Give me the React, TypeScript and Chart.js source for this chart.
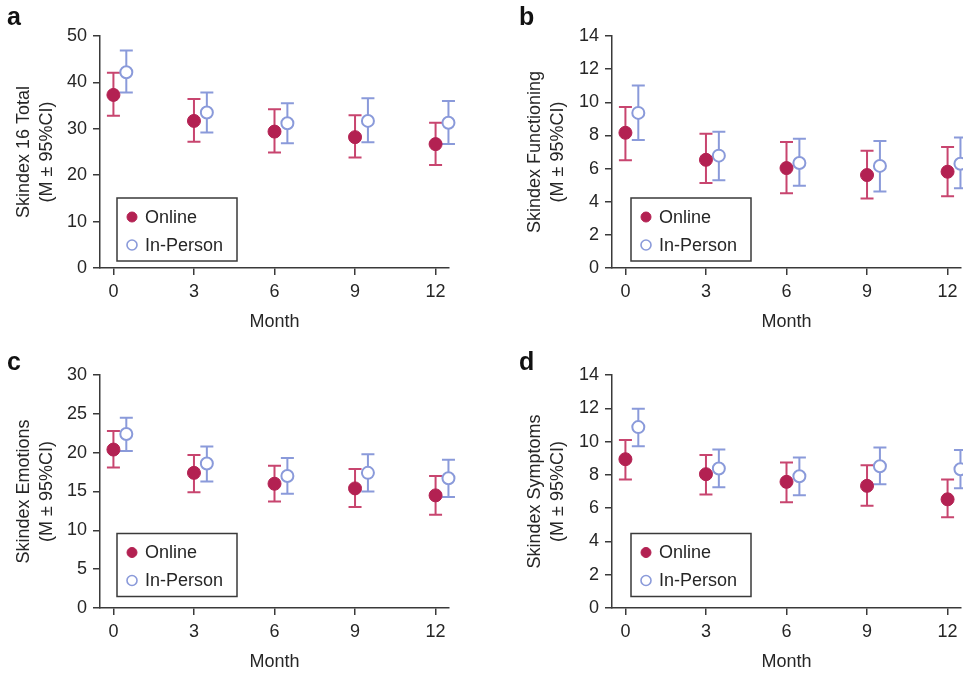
import React, { useEffect, useRef } from 'react';
import { Chart, registerables } from 'chart.js';

Chart.register(...registerables);

// ---------- data ----------
const MONTHS = [0, 3, 6, 9, 12];
const X_TICKS = [0, 3, 6, 9, 12];
const SERIES_NAMES = ['Online', 'In-Person'];
const X_TITLE = 'Month';
const ONLINE_OFFSET = 0;
const IN_PERSON_OFFSET = 0.48;

// panel a
const A_Y_TITLE = ['Skindex 16 Total', '(M ± 95%CI)'];
const A_Y_TICKS = [0, 10, 20, 30, 40, 50];
const A_ONLINE_MEAN = [37.3, 31.7, 29.4, 28.2, 26.7];
const A_ONLINE_LO = [32.8, 27.2, 24.9, 23.8, 22.2];
const A_ONLINE_HI = [42.1, 36.4, 34.2, 32.9, 31.3];
const A_INPERSON_MEAN = [42.2, 33.5, 31.2, 31.7, 31.3];
const A_INPERSON_LO = [37.8, 29.2, 26.9, 27.1, 26.7];
const A_INPERSON_HI = [46.9, 37.8, 35.5, 36.6, 36.0];

// panel b
const B_Y_TITLE = ['Skindex Functioning', '(M ± 95%CI)'];
const B_Y_TICKS = [0, 2, 4, 6, 8, 10, 12, 14];
const B_ONLINE_MEAN = [8.16, 6.53, 6.03, 5.61, 5.81];
const B_ONLINE_LO = [6.5, 5.13, 4.51, 4.19, 4.33];
const B_ONLINE_HI = [9.72, 8.1, 7.6, 7.08, 7.3];
const B_INPERSON_MEAN = [9.36, 6.78, 6.34, 6.16, 6.29];
const B_INPERSON_LO = [7.72, 5.29, 4.97, 4.61, 4.81];
const B_INPERSON_HI = [11.01, 8.22, 7.8, 7.66, 7.88];

// panel c
const C_Y_TITLE = ['Skindex Emotions', '(M ± 95%CI)'];
const C_Y_TICKS = [0, 5, 10, 15, 20, 25, 30];
const C_ONLINE_MEAN = [20.4, 17.4, 16.0, 15.4, 14.5];
const C_ONLINE_LO = [18.1, 14.9, 13.7, 13.0, 12.0];
const C_ONLINE_HI = [22.8, 19.7, 18.3, 17.9, 17.0];
const C_INPERSON_MEAN = [22.4, 18.6, 17.0, 17.4, 16.7];
const C_INPERSON_LO = [20.2, 16.3, 14.7, 15.0, 14.3];
const C_INPERSON_HI = [24.5, 20.8, 19.3, 19.8, 19.1];

// panel d
const D_Y_TITLE = ['Skindex Symptoms', '(M ± 95%CI)'];
const D_Y_TICKS = [0, 2, 4, 6, 8, 10, 12, 14];
const D_ONLINE_MEAN = [8.94, 8.04, 7.58, 7.34, 6.53];
const D_ONLINE_LO = [7.72, 6.82, 6.35, 6.14, 5.45];
const D_ONLINE_HI = [10.1, 9.2, 8.74, 8.58, 7.72];
const D_INPERSON_MEAN = [10.87, 8.38, 7.92, 8.52, 8.34];
const D_INPERSON_LO = [9.72, 7.26, 6.78, 7.44, 7.2];
const D_INPERSON_HI = [11.97, 9.52, 9.05, 9.65, 9.49];

// ---------- styles ----------
const FONT = "'Liberation Sans', Arial, Helvetica, sans-serif";
const TEXT = '#262626';
const AXIS = '#3a3a3a';
const ONLINE_COLOR = '#B32152';
const ONLINE_BAR = '#C8456F';
const IN_PERSON_COLOR = '#8A9ADA';

function buildPoints(mean: number[], lo: number[], hi: number[], offset: number) {
  return MONTHS.map((m, i) => ({ x: m + offset, y: mean[i], lo: lo[i], hi: hi[i] }));
}

const errorBarPlugin = {
  id: 'errorBars',
  beforeDatasetsDraw(chart: any) {
    const { ctx } = chart;
    const xs = chart.scales.x;
    const ys = chart.scales.y;
    chart.data.datasets.forEach((ds: any, di: number) => {
      if (!chart.isDatasetVisible(di)) return;
      ctx.save();
      ctx.strokeStyle = ds.errorColor;
      ctx.lineWidth = 2;
      ds.data.forEach((p: any) => {
        const px = xs.getPixelForValue(p.x);
        const yl = ys.getPixelForValue(p.lo);
        const yh = ys.getPixelForValue(p.hi);
        const cap = 6.5;
        ctx.beginPath();
        ctx.moveTo(px, yl);
        ctx.lineTo(px, yh);
        ctx.moveTo(px - cap, yl);
        ctx.lineTo(px + cap, yl);
        ctx.moveTo(px - cap, yh);
        ctx.lineTo(px + cap, yh);
        ctx.stroke();
      });
      ctx.restore();
    });
  },
};

// legend drawn inside a framed box, built from the datasets' labels and styles
const boxedLegendPlugin = {
  id: 'boxedLegend',
  afterDraw(chart: any) {
    const o = chart.options.plugins.boxedLegend;
    if (!o) return;
    const { ctx } = chart;
    const ca = chart.chartArea;
    const left = ca.left + o.dx;
    const top = ca.bottom - o.dy - o.h;
    ctx.save();
    ctx.strokeStyle = AXIS;
    ctx.lineWidth = 1.5;
    ctx.strokeRect(left, top, o.w, o.h);
    ctx.font = `18px ${FONT}`;
    ctx.textBaseline = 'middle';
    ctx.textAlign = 'left';
    chart.data.datasets.forEach((ds: any, i: number) => {
      const cy = top + 19 + i * 28;
      const cx = left + 15;
      ctx.beginPath();
      ctx.arc(cx, cy, 5, 0, Math.PI * 2);
      ctx.fillStyle = ds.backgroundColor;
      ctx.fill();
      ctx.lineWidth = i === 0 ? 1 : 1.6;
      ctx.strokeStyle = ds.borderColor;
      ctx.stroke();
      ctx.fillStyle = TEXT;
      ctx.fillText(ds.label, left + 28, cy + 1);
    });
    ctx.restore();
  },
};

type PanelCfg = {
  letter: string;
  yTitle: string[];
  yTicks: number[];
  online: [number[], number[], number[]];
  inPerson: [number[], number[], number[]];
  left: number;
  top: number;
  width: number;
  yAxisWidth: number;
  padTop: number;
  padRight: number;
  titlePad: number;
  legendDx: number;
  legendDy: number;
  letterLeft: number;
  letterTop: number;
};

const PANELS: PanelCfg[] = [
  {
    letter: 'a', yTitle: A_Y_TITLE, yTicks: A_Y_TICKS,
    online: [A_ONLINE_MEAN, A_ONLINE_LO, A_ONLINE_HI],
    inPerson: [A_INPERSON_MEAN, A_INPERSON_LO, A_INPERSON_HI],
    left: 0, top: 0, width: 480, yAxisWidth: 100, padTop: 36, padRight: 31, titlePad: 12.5,
    legendDx: 17, legendDy: 7, letterLeft: 7, letterTop: 4,
  },
  {
    letter: 'b', yTitle: B_Y_TITLE, yTicks: B_Y_TICKS,
    online: [B_ONLINE_MEAN, B_ONLINE_LO, B_ONLINE_HI],
    inPerson: [B_INPERSON_MEAN, B_INPERSON_LO, B_INPERSON_HI],
    left: 480, top: 0, width: 500, yAxisWidth: 132, padTop: 36, padRight: 19, titlePad: 43.5,
    legendDx: 19, legendDy: 7, letterLeft: 519, letterTop: 4,
  },
  {
    letter: 'c', yTitle: C_Y_TITLE, yTicks: C_Y_TICKS,
    online: [C_ONLINE_MEAN, C_ONLINE_LO, C_ONLINE_HI],
    inPerson: [C_INPERSON_MEAN, C_INPERSON_LO, C_INPERSON_HI],
    left: 0, top: 340, width: 480, yAxisWidth: 100, padTop: 35, padRight: 31, titlePad: 12.5,
    legendDx: 17, legendDy: 11.5, letterLeft: 7, letterTop: 349,
  },
  {
    letter: 'd', yTitle: D_Y_TITLE, yTicks: D_Y_TICKS,
    online: [D_ONLINE_MEAN, D_ONLINE_LO, D_ONLINE_HI],
    inPerson: [D_INPERSON_MEAN, D_INPERSON_LO, D_INPERSON_HI],
    left: 480, top: 340, width: 500, yAxisWidth: 132, padTop: 35, padRight: 19, titlePad: 43.5,
    legendDx: 19, legendDy: 11.5, letterLeft: 519, letterTop: 349,
  },
];

const H = 340;

function Panel({ cfg }: { cfg: PanelCfg }) {
  const ref = useRef<HTMLCanvasElement>(null);
  useEffect(() => {
    const yMax = cfg.yTicks[cfg.yTicks.length - 1];
    const chart = new Chart(ref.current as HTMLCanvasElement, {
      type: 'scatter',
      data: {
        datasets: [
          {
            label: SERIES_NAMES[0],
            data: buildPoints(cfg.online[0], cfg.online[1], cfg.online[2], ONLINE_OFFSET),
            backgroundColor: ONLINE_COLOR,
            borderColor: ONLINE_COLOR,
            borderWidth: 1,
            pointRadius: 6.5,
            pointStyle: 'circle',
            clip: false,
            errorColor: ONLINE_BAR,
          } as any,
          {
            label: SERIES_NAMES[1],
            data: buildPoints(cfg.inPerson[0], cfg.inPerson[1], cfg.inPerson[2], IN_PERSON_OFFSET),
            backgroundColor: '#ffffff',
            borderColor: IN_PERSON_COLOR,
            borderWidth: 2,
            pointRadius: 6,
            pointStyle: 'circle',
            clip: false,
            errorColor: IN_PERSON_COLOR,
          } as any,
        ],
      },
      options: {
        responsive: false,
        maintainAspectRatio: false,
        animation: false,
        events: [],
        font: { family: FONT, size: 18 },
        color: TEXT,
        layout: { padding: { left: 0, top: cfg.padTop, right: cfg.padRight, bottom: 0 } },
        plugins: {
          legend: { display: false },
          tooltip: { enabled: false },
          boxedLegend: { dx: cfg.legendDx, dy: cfg.legendDy, w: 120, h: 63 },
        } as any,
        scales: {
          x: {
            type: 'linear',
            min: -0.5,
            max: 12.5,
            afterBuildTicks: (s: any) => {
              s.ticks = X_TICKS.map((v) => ({ value: v }));
            },
            afterFit: (s: any) => {
              s.height = 72;
            },
            border: { display: true, color: AXIS, width: 1.5 },
            grid: { display: true, drawOnChartArea: false, drawTicks: true, tickLength: 7, color: AXIS, lineWidth: 1.5 },
            ticks: { padding: 6, color: TEXT, font: { size: 18, family: FONT } },
            title: {
              display: true,
              text: X_TITLE,
              color: TEXT,
              font: { size: 18, family: FONT },
              padding: { top: 0, bottom: 7.5 },
            },
          },
          y: {
            type: 'linear',
            min: 0,
            max: yMax,
            afterBuildTicks: (s: any) => {
              s.ticks = cfg.yTicks.map((v) => ({ value: v }));
            },
            afterFit: (s: any) => {
              s.width = cfg.yAxisWidth;
            },
            border: { display: true, color: AXIS, width: 1.5 },
            grid: { display: true, drawOnChartArea: false, drawTicks: true, tickLength: 7, color: AXIS, lineWidth: 1.5 },
            ticks: { padding: 6, color: TEXT, font: { size: 18, family: FONT } },
            title: {
              display: true,
              text: cfg.yTitle,
              color: TEXT,
              font: { size: 18, family: FONT, lineHeight: 1.28 },
              padding: { top: cfg.titlePad, bottom: 0 },
            },
          },
        },
      } as any,
      plugins: [errorBarPlugin, boxedLegendPlugin] as any,
    });
    return () => chart.destroy();
  }, [cfg]);

  return (
    <>
      <canvas
        ref={ref}
        width={cfg.width}
        height={H}
        style={{ position: 'absolute', left: cfg.left, top: cfg.top, width: cfg.width, height: H }}
      />
      <div
        style={{
          position: 'absolute',
          left: cfg.letterLeft,
          top: cfg.letterTop,
          fontFamily: FONT,
          fontWeight: 'bold',
          fontSize: 25,
          lineHeight: '25px',
          color: '#111',
        }}
      >
        {cfg.letter}
      </div>
    </>
  );
}

export default function App() {
  return (
    <div
      style={{
        position: 'absolute',
        left: 0,
        top: 0,
        width: 963,
        height: 675,
        overflow: 'hidden',
        background: '#ffffff',
      }}
    >
      {PANELS.map((p) => (
        <Panel key={p.letter} cfg={p} />
      ))}
    </div>
  );
}
